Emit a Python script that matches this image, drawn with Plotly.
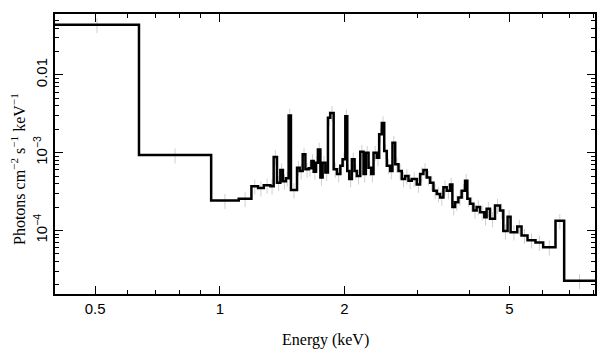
import numpy as np
import plotly.graph_objects as go

# Bin edges (keV) of the step spectrum
edges = [0.40, 0.638, 0.953, 1.111, 1.192, 1.237, 1.277, 1.325, 1.349, 1.374,
         1.400, 1.420, 1.444, 1.466, 1.485, 1.536, 1.559, 1.585, 1.609, 1.639,
         1.664, 1.685, 1.707, 1.725, 1.749, 1.771, 1.798, 1.824, 1.848, 1.883,
         1.918, 1.954, 1.979, 2.009, 2.031, 2.054, 2.084, 2.115, 2.142, 2.183,
         2.223, 2.252, 2.286, 2.320, 2.350, 2.393, 2.425, 2.461, 2.494, 2.530,
         2.578, 2.611, 2.651, 2.700, 2.750, 2.802, 2.854, 2.906, 2.988, 3.045,
         3.101, 3.159, 3.219, 3.279, 3.340, 3.403, 3.466, 3.530, 3.597, 3.643,
         3.698, 3.766, 3.836, 3.909, 3.959, 4.019, 4.094, 4.169, 4.249, 4.351,
         4.407, 4.491, 4.617, 4.747, 4.835, 4.952, 5.035, 5.225, 5.351, 5.532,
         5.783, 6.035, 6.463, 6.782, 8.05]

# Flux per bin (photons cm^-2 s^-1 keV^-1)
flux = [4.4e-2, 9.3e-4, 2.42e-4, 2.55e-4, 3.7e-4, 3.5e-4, 3.8e-4, 3.7e-4, 8.8e-4,
        4.1e-4, 6.0e-4, 4.3e-4, 4.7e-4, 3.0e-3, 3.3e-4, 6.4e-4, 5.8e-4, 9.5e-4,
        6.1e-4, 6.3e-4, 7.8e-4, 5.7e-4, 7.4e-4, 1.1e-3, 4.8e-4, 7.4e-4, 5.55e-4,
        2.8e-3, 3.24e-3, 6.1e-4, 5.3e-4, 6.8e-4, 8.2e-4, 2.94e-3, 5.8e-4, 4.6e-4,
        8.2e-4, 5.8e-4, 5.0e-4, 1.03e-3, 5.3e-4, 1.0e-3, 6.4e-4, 5.3e-4, 1.0e-3,
        8.6e-4, 1.72e-3, 2.4e-3, 1.05e-3, 6.8e-4, 5.8e-4, 1.34e-3, 7.1e-4, 5.8e-4,
        4.6e-4, 5.0e-4, 4.35e-4, 4.6e-4, 3.9e-4, 5.3e-4, 6.0e-4, 4.8e-4, 4.1e-4,
        3.24e-4, 2.94e-4, 2.66e-4, 3.6e-4, 3.24e-4, 3.9e-4, 2.0e-4, 2.3e-4, 2.66e-4,
        3.24e-4, 4.35e-4, 2.55e-4, 2.2e-4, 1.8e-4, 2.0e-4, 1.71e-4, 1.48e-4, 1.9e-4,
        1.41e-4, 2.09e-4, 1.8e-4, 9.8e-5, 1.5e-4, 9.5e-5, 1.12e-4, 8.6e-5, 7.5e-5,
        7.0e-5, 6.1e-5, 1.33e-4, 2.25e-5]

REL_ERR = 0.22  # typical relative error bar half-length

x_ticks = [0.5, 1, 2, 5]
x_ticktext = ["0.5", "1", "2", "5"]
x_minor = [0.6, 0.7, 0.8, 0.9, 3, 4, 6, 7, 8]
y_ticks = [1e-4, 1e-3, 1e-2]
y_ticktext = ["10<sup>−4</sup>", "10<sup>−3</sup>", "0.01"]
y_minor = [m * 10.0 ** e for e in (-5, -4, -3, -2) for m in range(2, 10)
           if 1.5e-5 < m * 10.0 ** e < 0.06]

edges_a = np.array(edges)
flux_a = np.array(flux)
centers = np.sqrt(edges_a[:-1] * edges_a[1:])

fig = go.Figure()
fig.add_trace(go.Scatter(
    x=centers, y=flux_a, mode="markers",
    marker=dict(size=1, color="rgba(0,0,0,0)"),
    error_y=dict(type="data", array=flux_a * REL_ERR, color="#cfcfcf",
                 thickness=1, width=0),
    hoverinfo="skip", showlegend=False))
fig.add_trace(go.Scatter(
    x=list(edges), y=list(flux) + [flux[-1]], mode="lines",
    line=dict(shape="hv", color="black", width=2.5),
    showlegend=False))

axis_common = dict(showline=True, linecolor="black", linewidth=1.5, mirror="ticks",
                   ticks="inside", ticklen=8, tickwidth=1, tickcolor="black",
                   showgrid=False, zeroline=False)

fig.update_xaxes(type="log", range=[np.log10(0.4), np.log10(8.05)],
                 tickvals=x_ticks, ticktext=x_ticktext,
                 tickfont=dict(family="Liberation Sans", size=15, color="black"),
                 minor=dict(tickvals=x_minor, ticks="inside", ticklen=4,
                            tickcolor="black", showgrid=False),
                 **axis_common)
fig.update_yaxes(type="log", range=[-4.817, -1.218],
                 tickvals=y_ticks, ticktext=y_ticktext, tickangle=-90,
                 tickfont=dict(family="Liberation Sans", size=15, color="black"),
                 minor=dict(tickvals=y_minor, ticks="inside", ticklen=4,
                            tickcolor="black", showgrid=False),
                 **axis_common)

fig.add_annotation(text="Energy (keV)", xref="paper", yref="paper",
                   x=0.5, y=0, yshift=-46, yanchor="middle", showarrow=False,
                   font=dict(family="Liberation Serif", size=16, color="black"))
fig.add_annotation(text="Photons cm<sup>−2</sup> s<sup>−1</sup> keV<sup>−1</sup>",
                   xref="paper", yref="paper", x=0, xshift=-37, y=0.5, yshift=-15,
                   xanchor="center", yanchor="middle", textangle=-90, showarrow=False,
                   font=dict(family="Liberation Serif", size=16, color="black"))

fig.update_layout(width=609, height=357, margin=dict(l=55, r=12, t=12, b=63),
                  plot_bgcolor="white", paper_bgcolor="white")

fig.write_html("out.html", config={"displayModeBar": False},
               post_script="document.body.style.margin='0';document.body.style.padding='0';")
